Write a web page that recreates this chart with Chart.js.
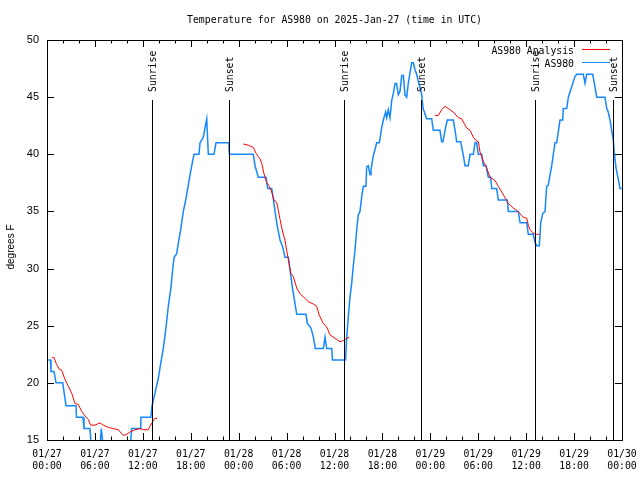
<!DOCTYPE html>
<html>
<head>
<meta charset="utf-8">
<script src="https://cdn.jsdelivr.net/npm/chart.js@4.4.1/dist/chart.umd.min.js"></script>
<style>
html, body { margin: 0; padding: 0; background: #fff; }
</style>
</head>
<body>
<canvas id="chart" width="640" height="480"></canvas>
<script>
// hours since 2025-01-27 00:00 UTC
const obsHours = [0.16, 0.44, 0.5, 0.88, 1.13, 1.97, 2.38, 3.63, 3.69, 4.51, 4.63, 5.38, 5.57, 6.6, 6.8, 7.1,
  10.4, 10.6, 11.65, 11.75, 13.0, 13.15, 13.52, 13.94, 14.24, 14.56, 14.86, 15.19, 15.53, 15.82, 15.94,
  16.24, 16.44, 16.74, 17.07, 17.37, 17.69, 17.99, 18.32, 18.41, 19.03, 19.16, 19.57, 19.78, 20.0, 20.2,
  20.91, 21.16, 22.77, 22.83, 25.83, 26.05, 26.46, 27.42, 27.64, 28.14, 28.34, 28.55, 28.84, 29.18, 29.51,
  29.8, 30.22, 30.43, 30.72, 30.97, 31.27, 32.43, 32.6, 33.06, 33.35, 33.6, 34.6, 34.81, 35.02, 35.65,
  35.75, 37.38, 37.53, 37.73, 37.94, 38.15, 38.35, 38.57, 38.78, 38.98, 39.19, 39.41, 39.61, 39.94, 40.03,
  40.23, 40.45, 40.57, 40.86, 41.07, 41.28, 41.61, 41.91, 42.11, 42.41, 42.54, 42.74, 42.95, 43.16, 43.36,
  43.58, 43.77, 43.99, 44.2, 44.42, 44.62, 44.83, 45.04, 45.24, 45.45, 45.67, 45.87, 46.08, 46.29, 46.49,
  46.71, 46.9, 47.1, 47.54, 48.17, 48.37, 49.21, 49.42, 49.58, 49.84, 50.12, 50.88, 51.09, 51.3, 51.8,
  52.13, 52.34, 52.75, 52.97, 53.38, 53.6, 53.81, 54.0, 54.43, 54.63, 54.97, 55.26, 55.56, 55.69, 56.31,
  56.51, 57.64, 57.77, 59.02, 59.23, 60.07, 60.27, 60.89, 61.1, 61.32, 61.65, 61.82, 62.07, 62.36, 62.57,
  62.77, 62.99, 63.2, 63.4, 63.61, 63.82, 64.03, 64.24, 64.57, 64.65, 65.08, 65.28, 65.7, 66.11, 66.33,
  67.16, 67.37, 67.58, 68.33, 68.62, 68.83, 69.87, 70.09, 70.28, 70.5, 70.71, 70.91, 71.04, 71.25, 71.54,
  71.75, 71.96];
const obsTemps = [22, 22, 21, 21, 20, 20, 18, 18, 17, 17, 16, 16, 14, 14, 16, 14,
  14, 16, 16, 17, 17, 18, 19.1, 20.4, 21.7, 23, 24.6, 26.7, 28.4, 30.5, 31,
  31.3, 32.2, 33.4, 35, 36, 37.3, 38.5, 39.7, 40, 40, 41, 41.5, 42.3, 43.1, 40,
  40, 41, 41, 40, 40, 39, 38, 38, 37, 37, 36.1, 35, 33.7, 32.5, 31.9,
  31, 31, 29.9, 28.4, 27.3, 26, 26, 25.2, 24.8, 24, 23, 23, 24, 23, 23,
  22, 22, 24, 25.8, 27.5, 28.7, 30.2, 31.6, 33.4, 34.7, 35, 36.3, 37.2, 37.2, 38.9,
  39, 38.2, 38.6, 39.9, 40.4, 41, 41, 42.3, 43, 43.7, 43.2, 43.9, 43.2, 44.7, 45.3,
  46.2, 46.2, 45.2, 45.5, 46.9, 46.9, 45.2, 45, 46.2, 47.1, 48, 48, 47.4, 47, 46.4,
  45.8, 45.3, 44, 43.1, 43.1, 42.1, 42.1, 41.1, 41.1, 42.1, 43, 43, 42.1, 41.1, 41.1,
  39.9, 39, 39, 40, 40, 41, 41, 40, 40, 39, 39, 38, 38, 37, 37,
  36, 36, 35, 35, 34, 34, 33, 33, 32.3, 32, 32, 34, 34.8, 35, 37.2,
  37.3, 38.2, 39, 40, 41, 41, 42, 43, 43, 44, 44, 45, 45.9, 46.8, 47,
  47, 46.2, 47, 47, 45.9, 45, 45, 44, 43.7, 43, 42.1, 41.2, 40.1, 38.8, 37.8,
  37, 37];

// analysis series, null = no analysis
const anaHours = [0.59, 0.88, 1.21, 1.54, 1.84, 2.25, 2.67, 3.09, 3.51, 3.92, 4.35, 4.76, 5.17, 5.47, 6.01,
  6.64, 7.05, 7.68, 8.3, 8.93, 9.55, 9.98, 10.39, 11.02, 11.65, 12.06, 12.68, 12.9, 13.24, 13.52, 13.81,
  20,
  24.58, 25.21, 25.83, 26.17, 26.46, 26.67, 26.89, 27.17, 27.51, 27.84, 28.14, 28.42, 28.76, 28.96, 29.18,
  29.51, 29.8, 30.01, 30.22, 30.52, 30.84, 31.27, 31.68, 32.31, 32.72, 33.35, 33.77, 34.1, 34.6, 35.02,
  35.44, 36.06, 36.69, 37.1, 37.53, 37.85,
  44,
  48.58, 49.0, 49.42, 49.84, 50.46, 50.88, 51.5, 51.93, 52.55, 52.97, 53.38, 53.72, 54.01, 54.22, 54.63,
  55.06, 55.47, 56.1, 56.51, 56.94, 57.35, 57.77, 58.39, 58.82, 59.23, 59.64, 60.07, 60.27, 60.48, 60.89,
  61.32, 61.65];
const anaTemps = [22.2, 22.2, 21.6, 21.2, 21.1, 20.3, 19.7, 19.1, 18.2, 18.1, 17.5, 17.1, 16.8, 16.3, 16.3,
  16.5, 16.3, 16.1, 16.0, 15.9, 15.4, 15.5, 15.7, 15.9, 16.0, 15.9, 15.9, 16.2, 16.6, 16.9, 16.9,
  null,
  40.9, 40.8, 40.6, 40.1, 39.8, 39.6, 39.2, 38.3, 37.5, 37.2, 36.7, 36, 35.8, 35.1, 34.3,
  33.2, 32.5, 31.6, 30.8, 29.6, 29.3, 28.3, 27.8, 27.4, 27.1, 26.9, 26.7, 25.9, 25.2, 24.9,
  24.2, 23.9, 23.6, 23.7, 23.9, 24,
  null,
  43.4, 43.4, 43.9, 44.2, 43.9, 43.7, 43.2, 43.1, 42.3, 42.1, 41.5, 41.2, 41.1, 40.2, 39.4,
  38.8, 38, 37.7, 37.2, 36.7, 36.2, 35.7, 35.3, 35.1, 34.8, 34.5, 34.4, 33.8, 33.4, 33.1,
  33.0, 33.0];

const sunriseHours = [13.18, 37.13, 61.12];
const sunsetHours = [22.83, 46.85, 70.87];

const dayLabels = ['01/27', '01/28', '01/29', '01/30'];
const hourLabels = ['00:00', '06:00', '12:00', '18:00'];

const monoFont = 'DejaVu Sans Mono';

const overlay = {
  id: 'overlay',
  afterDraw(chart) {
    const { ctx, chartArea: a, scales: { x, y } } = chart;
    ctx.save();
    ctx.strokeStyle = '#000';
    ctx.lineWidth = 1;
    ctx.strokeRect(Math.round(a.left) + 0.5, Math.round(a.top) + 0.5, Math.round(a.width), Math.round(a.height));

    ctx.beginPath();
    x.ticks.forEach(t => {
      const px = Math.round(x.getPixelForValue(t.value)) + 0.5;
      const len = t.value % 6 === 0 ? 7 : 3.5;
      ctx.moveTo(px, a.bottom); ctx.lineTo(px, a.bottom - len);
      ctx.moveTo(px, a.top); ctx.lineTo(px, a.top + len);
    });
    y.ticks.forEach(t => {
      const py = Math.round(y.getPixelForValue(t.value)) + 0.5;
      ctx.moveTo(a.left, py); ctx.lineTo(a.left + 7, py);
      ctx.moveTo(a.right, py); ctx.lineTo(a.right - 7, py);
    });
    ctx.stroke();

    // sunrise / sunset markers
    ctx.font = '9.8px "' + monoFont + '"';
    ctx.fillStyle = '#000';
    const mark = (h, label) => {
      const px = Math.round(x.getPixelForValue(h)) + 0.5;
      ctx.beginPath();
      ctx.moveTo(px, a.bottom - 0.85 * a.height);
      ctx.lineTo(px, a.bottom);
      ctx.stroke();
      ctx.save();
      ctx.translate(px + 1, a.bottom - 0.87 * a.height);
      ctx.rotate(-Math.PI / 2);
      ctx.textAlign = 'left';
      ctx.textBaseline = 'middle';
      ctx.fillText(label, 0, 0);
      ctx.restore();
    };
    sunriseHours.forEach(h => mark(h, 'Sunrise'));
    sunsetHours.forEach(h => mark(h, 'Sunset'));

    // y axis title
    ctx.save();
    ctx.font = '10px "Liberation Sans"';
    ctx.translate(11, 247);
    ctx.rotate(-Math.PI / 2);
    ctx.textAlign = 'center';
    ctx.textBaseline = 'middle';
    ctx.fillText('degrees F', 0, 0);
    ctx.restore();

    // legend, top right inside the frame
    ctx.font = '9.8px "' + monoFont + '"';
    ctx.textAlign = 'right';
    ctx.textBaseline = 'middle';
    chart.data.datasets.forEach((ds, i) => {
      const row = a.top + 10 + i * 13;
      ctx.fillStyle = '#000';
      ctx.fillText(ds.label, a.right - 48, row + 1.5);
      ctx.strokeStyle = ds.borderColor;
      ctx.lineWidth = 1;
      ctx.beginPath();
      ctx.moveTo(a.right - 40, row - 0.5);
      ctx.lineTo(a.right - 12, row - 0.5);
      ctx.stroke();
    });
    ctx.restore();
  }
};

new Chart(document.getElementById('chart'), {
  type: 'line',
  data: {
    datasets: [{
      label: 'AS980 Analysis',
      data: anaHours.map((h, i) => ({ x: h, y: anaTemps[i] })),
      borderColor: '#ff0000',
      borderWidth: 1,
      pointRadius: 0,
      tension: 0,
      spanGaps: false
    }, {
      label: 'AS980',
      data: obsHours.map((h, i) => ({ x: h, y: obsTemps[i] })),
      borderColor: '#1688ff',
      borderWidth: 1.5,
      pointRadius: 0,
      tension: 0
    }]
  },
  options: {
    responsive: false,
    animation: false,
    layout: { padding: { top: 0, right: 18, bottom: 0, left: 0 } },
    plugins: {
      legend: { display: false },
      tooltip: { enabled: false },
      title: {
        display: true,
        fullSize: false,
        text: 'Temperature for AS980 on 2025-Jan-27 (time in UTC)',
        color: '#000',
        font: { family: monoFont, size: 9.8, weight: 'normal', lineHeight: '12px' },
        padding: { top: 14, bottom: 14 }
      }
    },
    scales: {
      x: {
        type: 'linear',
        min: 0,
        max: 72,
        grid: { display: false, drawTicks: false },
        border: { display: false },
        afterFit: s => { s.height = 40; s.paddingLeft = 0; s.paddingRight = 0; },
        ticks: {
          stepSize: 2,
          maxTicksLimit: 100,
          autoSkip: false,
          maxRotation: 0,
          padding: 8,
          color: '#000',
          font: { family: monoFont, size: 9.8, lineHeight: '12px' },
          callback: v => v % 6 === 0
            ? [dayLabels[Math.floor(v / 24)], hourLabels[(v % 24) / 6]]
            : ''
        }
      },
      y: {
        min: 15,
        max: 50,
        grid: { display: false, drawTicks: false },
        border: { display: false },
        afterFit: s => { s.width = 47; },
        ticks: {
          stepSize: 5,
          padding: 8,
          color: '#000',
          font: { family: 'Liberation Sans', size: 11 }
        }
      }
    }
  },
  plugins: [overlay]
});
</script>
</body>
</html>
